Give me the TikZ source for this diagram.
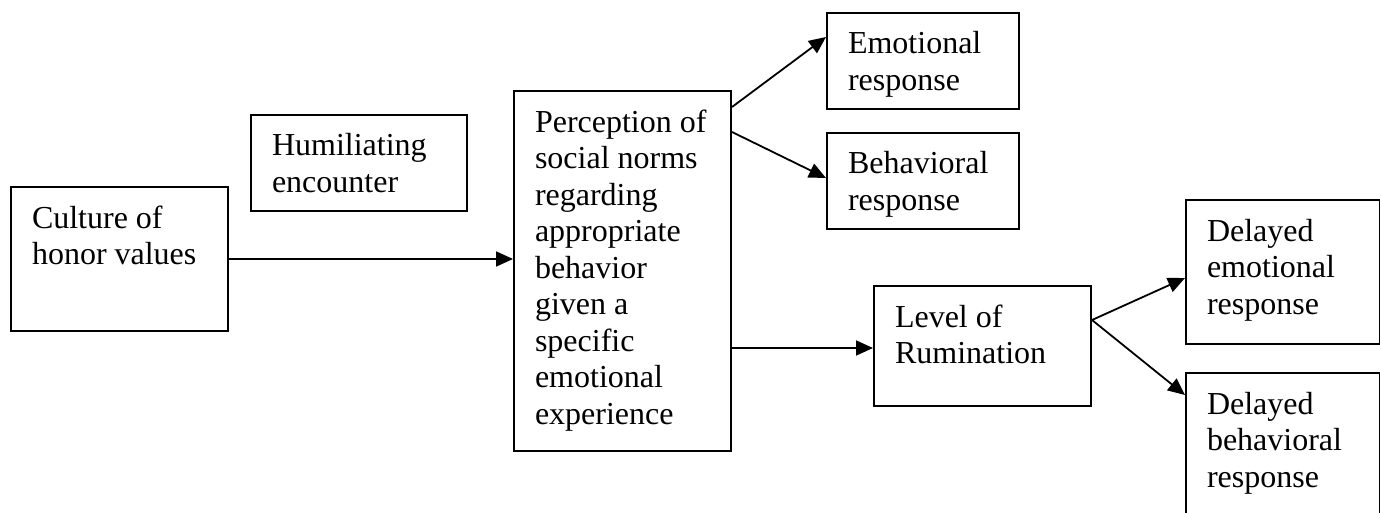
\documentclass[tikz,border=0pt]{standalone}
\usepackage{fontspec}
\setmainfont{Liberation Serif}
\usetikzlibrary{arrows.meta,calc}

% Text inside a box: top-aligned, fixed size, left inset
\newcommand{\boxtxt}[3]{\parbox[c][#2][t]{#1}{\raggedright\leftskip=21pt\rule{0pt}{41pt}#3}}

\begin{document}
\begin{tikzpicture}[x=1pt,y=-1pt,
  flowbox/.style={draw=black, line width=2pt, inner sep=0pt, anchor=north west,
                  font=\fontsize{32}{36.5}\selectfont},
  arr/.style={line width=1.8pt, -{Triangle[length=17pt,width=15pt]}}]
\useasboundingbox (0,0) rectangle (1380,513);

\node[flowbox] (cult)  at (10,186)   {\boxtxt{217pt}{144pt}{Culture of\\honor values}};
\node[flowbox] (humil) at (250,114)  {\boxtxt{216pt}{96pt}{Humiliating\\encounter}};
\node[flowbox] (perc)  at (513,90)   {\boxtxt{217pt}{360pt}{Perception of\\social norms\\regarding\\appropriate\\behavior\\given a\\specific\\emotional\\experience}};
\node[flowbox] (emo)   at (826,12)   {\boxtxt{192pt}{96pt}{Emotional\\response}};
\node[flowbox] (beh)   at (826,132)  {\boxtxt{192pt}{96pt}{Behavioral\\response}};
\node[flowbox] (rum)   at (873,285)  {\boxtxt{217pt}{120pt}{Level of\\Rumination}};
\node[flowbox] (demo)  at (1185,199) {\boxtxt{194pt}{144pt}{Delayed\\emotional\\response}};
\node[flowbox] (dbeh)  at (1185,372) {\boxtxt{194pt}{144pt}{Delayed\\behavioral\\response}};

\draw[arr] (cult.east) -- (cult.east -| perc.west);
\draw[arr] ($(perc.north east)+(0,17)$) -- ($(emo.north west)+(0,25)$);
\draw[arr] ($(perc.north east)+(0,42)$) -- ($(beh.north west)+(0,46)$);
\draw[arr] ($(perc.north east)+(0,258)$) -- ($(rum.north west)+(0,63)$);
\draw[arr] ($(rum.north east)+(0,35)$) -- ($(demo.north west)+(0,79)$);
\draw[arr] ($(rum.north east)+(0,35)$) -- ($(dbeh.north west)+(0,23)$);
\end{tikzpicture}
\end{document}
